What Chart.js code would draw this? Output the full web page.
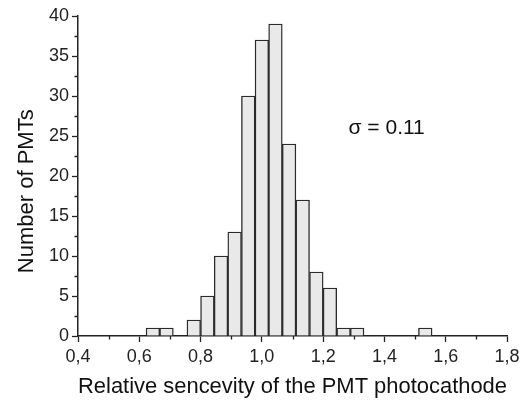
<!DOCTYPE html>
<html>
<head>
<meta charset="utf-8">
<script src="https://cdn.jsdelivr.net/npm/chart.js@4"></script>
<style>
  html, body { margin: 0; padding: 0; background: #fff; }
  #wrap { width: 525px; height: 400px; position: relative; }
</style>
</head>
<body>
<div id="wrap"><canvas id="histChart"></canvas></div>
<script>
// Histogram of relative photocathode sensitivity (bin width 0.4/9)
const binCenters = [0.6444, 0.6889, 0.7778, 0.8222, 0.8667, 0.9111, 0.9556, 1.0,
                    1.0444, 1.0889, 1.1333, 1.1778, 1.2222, 1.2667, 1.3111, 1.5333];
const counts     = [1, 1, 2, 5, 10, 13, 30, 37, 39, 24, 17, 8, 6, 1, 1, 1];

const xMinorTicks = [0.5, 0.7, 0.9, 1.1, 1.3, 1.5, 1.7];
const yMinorTicks = [2.5, 7.5, 12.5, 17.5, 22.5, 27.5, 32.5, 37.5];

const sigmaLabel = 'σ = 0.11';
const sigmaPos = { x: 1.283, y: 26 };

const FONT = 'Liberation Sans, Arial, Helvetica, sans-serif';
const AXIS_COLOR = '#222';

// short minor ticks + sigma annotation
const extrasPlugin = {
  id: 'extras',
  afterDraw(chart) {
    const ctx = chart.ctx;
    const xs = chart.scales.x;
    const ys = chart.scales.y;
    ctx.save();
    ctx.strokeStyle = AXIS_COLOR;
    ctx.lineWidth = 1.3;
    ctx.beginPath();
    xMinorTicks.forEach(v => {
      const px = Math.round(xs.getPixelForValue(v)) + 0.5;
      ctx.moveTo(px, ys.bottom);
      ctx.lineTo(px, ys.bottom + 3.5);
    });
    yMinorTicks.forEach(v => {
      const py = Math.round(ys.getPixelForValue(v)) + 0.5;
      ctx.moveTo(xs.left - 3.5, py);
      ctx.lineTo(xs.left, py);
    });
    ctx.stroke();

    ctx.fillStyle = '#111';
    ctx.font = '21px ' + FONT;
    ctx.textAlign = 'left';
    ctx.textBaseline = 'middle';
    ctx.fillText(sigmaLabel, xs.getPixelForValue(sigmaPos.x), ys.getPixelForValue(sigmaPos.y));
    ctx.restore();
  }
};

new Chart(document.getElementById('histChart'), {
  type: 'bar',
  data: {
    datasets: [{
      data: binCenters.map((c, i) => ({ x: c, y: counts[i] })),
      backgroundColor: '#e9e9e9',
      borderColor: '#2b2b2b',
      borderWidth: 1.4,
      barPercentage: 1,
      categoryPercentage: 1
    }]
  },
  options: {
    responsive: true,
    maintainAspectRatio: false,
    animation: false,
    layout: { padding: { left: 14, right: 18, top: 16, bottom: 0 } },
    plugins: {
      legend: { display: false },
      tooltip: { enabled: false }
    },
    scales: {
      x: {
        type: 'linear',
        min: 0.4,
        max: 1.8,
        offset: false,
        afterFit: s => { s.height = 64; },
        border: { display: true, color: AXIS_COLOR, width: 1.5 },
        grid: { display: true, offset: false, drawOnChartArea: false, drawTicks: true, tickLength: 6, tickColor: AXIS_COLOR, tickWidth: 1.3 },
        ticks: {
          stepSize: 0.2,
          padding: 4,
          color: '#222',
          font: { family: FONT, size: 18 },
          maxRotation: 0,
          callback: v => v.toFixed(1).replace('.', ',')
        },
        title: {
          display: true,
          text: 'Relative sencevity of the PMT photocathode',
          color: '#111',
          font: { family: FONT, size: 22 },
          padding: { top: 0, bottom: 0 }
        }
      },
      y: {
        min: 0,
        max: 40,
        afterFit: s => { s.width = 64; },
        border: { display: true, color: AXIS_COLOR, width: 1.5 },
        grid: { display: true, drawOnChartArea: false, drawTicks: true, tickLength: 6, tickColor: AXIS_COLOR, tickWidth: 1.3 },
        ticks: {
          stepSize: 5,
          padding: 3,
          color: '#222',
          font: { family: FONT, size: 18 }
        },
        title: {
          display: true,
          // trailing no-break spaces push the centred title down to where the original sits
          text: 'Number of PMTs\u00a0\u00a0\u00a0\u00a0\u00a0',
          color: '#111',
          font: { family: FONT, size: 22 },
          padding: { top: 0, bottom: 0 }
        }
      }
    }
  },
  plugins: [extrasPlugin]
});
</script>
</body>
</html>
